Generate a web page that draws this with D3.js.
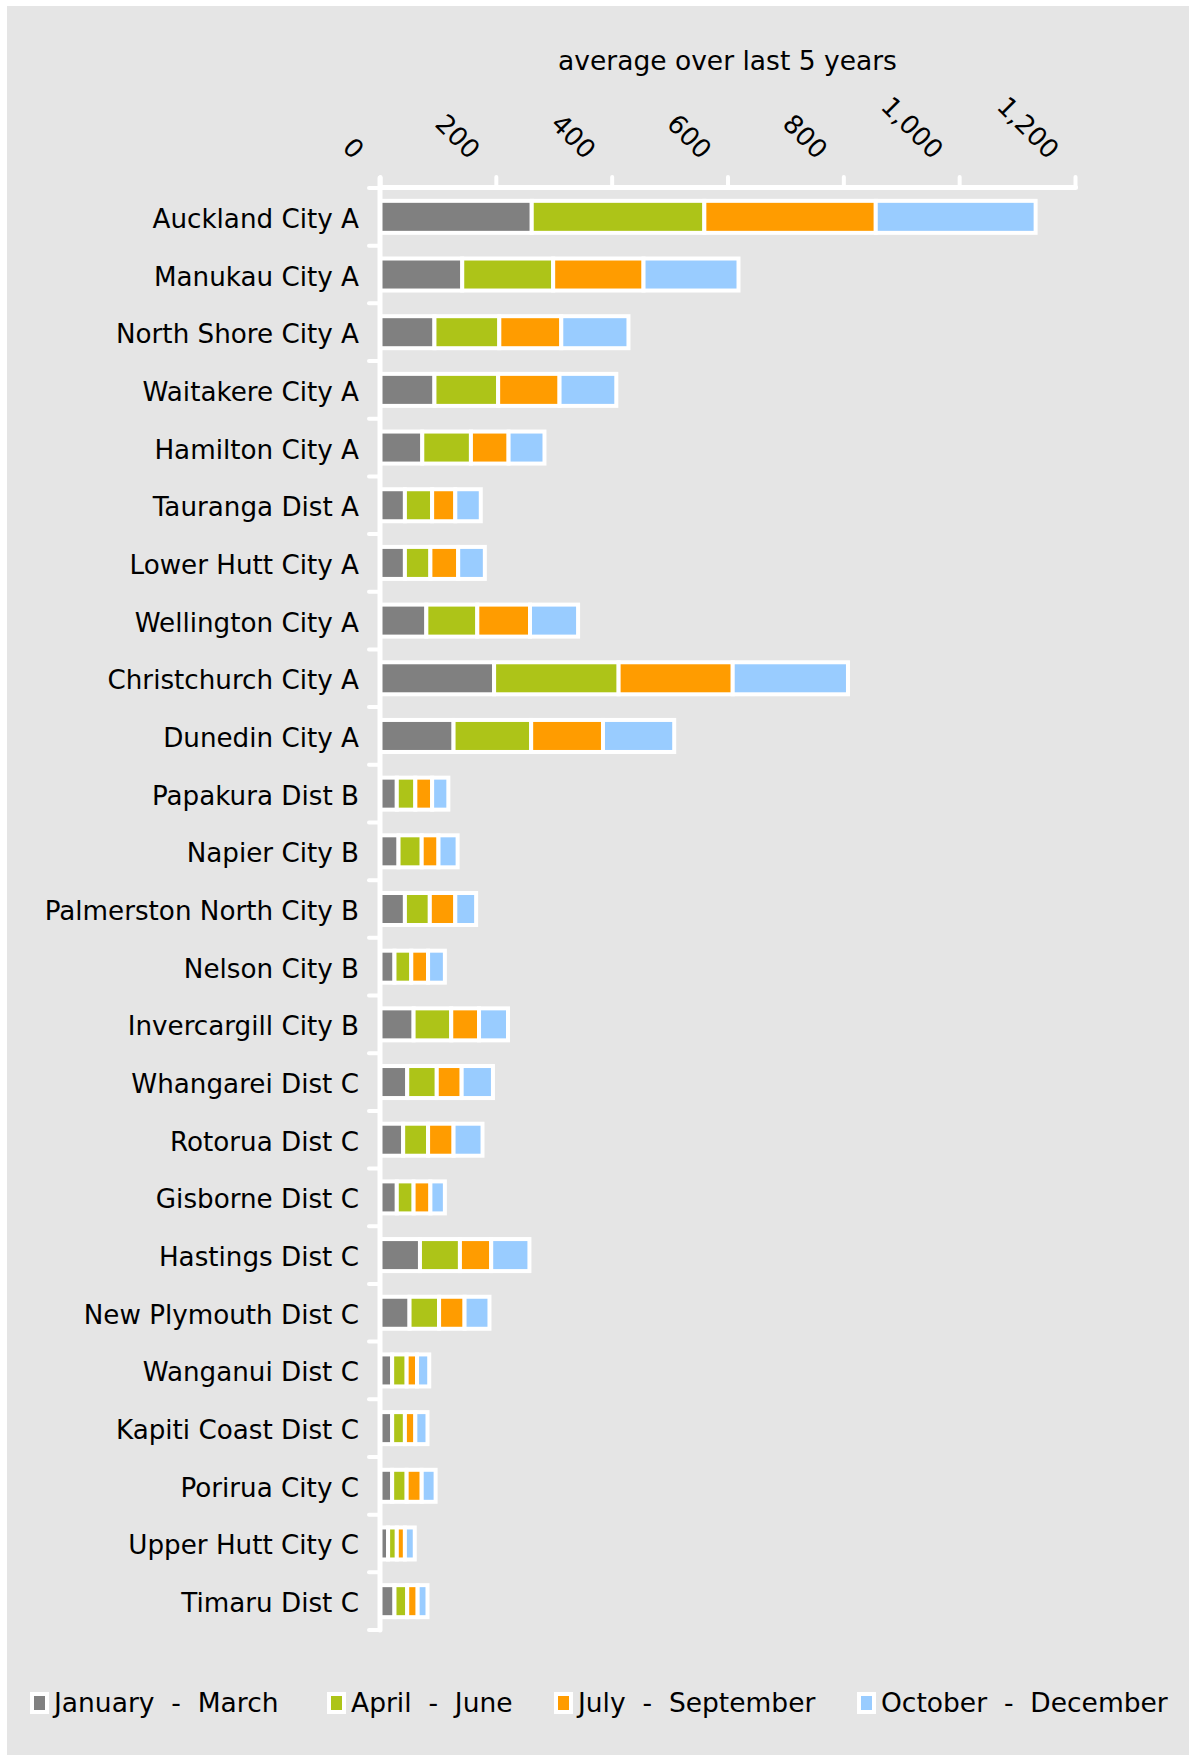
<!DOCTYPE html>
<html>
<head>
<meta charset="utf-8">
<script src="https://cdn.jsdelivr.net/npm/d3@7"></script>
<style>
  body { margin: 0; background: #ffffff; }
  text { font-family: "DejaVu Sans", Verdana, sans-serif; fill: #000; }
</style>
</head>
<body>
<div id="chart"></div>
<script>
// chart values
var categories = ["Auckland City A", "Manukau City A", "North Shore City A", "Waitakere City A",
  "Hamilton City A", "Tauranga Dist A", "Lower Hutt City A", "Wellington City A",
  "Christchurch City A", "Dunedin City A", "Papakura Dist B", "Napier City B",
  "Palmerston North City B", "Nelson City B", "Invercargill City B", "Whangarei Dist C",
  "Rotorua Dist C", "Gisborne Dist C", "Hastings Dist C", "New Plymouth Dist C",
  "Wanganui Dist C", "Kapiti Coast Dist C", "Porirua City C", "Upper Hutt City C", "Timaru Dist C"];

var janMar = [262, 142, 94, 94, 73, 43, 43, 80, 197, 127, 29, 32, 43, 25, 58, 47, 40, 29, 69, 51, 21, 21, 21, 14, 25];
var aprJun = [298, 157, 112, 110, 84, 47, 44, 88, 215, 134, 32, 40, 43, 29, 65, 51, 43, 29, 69, 51, 25, 22, 25, 15, 22];
var julSep = [296, 156, 107, 106, 65, 40, 48, 91, 197, 124, 29, 29, 44, 29, 48, 43, 44, 29, 54, 44, 18, 18, 26, 14, 18];
var octDec = [276, 164, 116, 98, 62, 44, 46, 83, 199, 123, 28, 33, 36, 29, 50, 54, 50, 25, 66, 43, 21, 21, 24, 17, 17];

var seriesNames = ["January  -  March", "April  -  June", "July  -  September", "October  -  December"];
var seriesColors = ["#808080", "#adc418", "#ff9c00", "#99ccff"];
var xTicks = [0, 200, 400, 600, 800, 1000, 1200];
var chartTitle = "average over last 5 years";

var svgWidth = 1189;
var svgHeight = 1755;

// plot area
var plot = { left: 380, right: 1075, top: 188, bottom: 1630 };
// where each legend entry starts
var legendX = [32, 329, 556, 859];

var svg = d3.select("#chart")
  .append("svg")
  .attr("width", svgWidth)
  .attr("height", svgHeight);

svg.append("rect")
  .attr("x", 7)
  .attr("y", 6)
  .attr("width", svgWidth - 7)
  .attr("height", svgHeight - 6)
  .attr("fill", "#e5e5e5");

// build rows for the stack
var keys = ["janMar", "aprJun", "julSep", "octDec"];
var rows = categories.map(function(c, i) {
  return { name: c, janMar: janMar[i], aprJun: aprJun[i], julSep: julSep[i], octDec: octDec[i] };
});
var stacked = d3.stack().keys(keys)(rows);

var x = d3.scaleLinear()
  .domain([0, 1200])
  .range([plot.left, plot.right]);

var pad = 0.445;
var y = d3.scaleBand()
  .domain(categories)
  .range([plot.top, plot.bottom])
  .paddingInner(pad)
  .paddingOuter(pad / 2);

// title
svg.append("text")
  .attr("x", (plot.left + plot.right) / 2)
  .attr("y", 70)
  .attr("text-anchor", "middle")
  .attr("font-size", "26.5px")
  .text(chartTitle);

// bars
svg.append("g").selectAll("g")
  .data(stacked)
  .enter()
  .append("g")
  .attr("fill", function(d, i) { return seriesColors[i]; })
  .selectAll("rect")
  .data(function(d) { return d; })
  .enter()
  .append("rect")
  .attr("x", function(d) { return x(d[0]); })
  .attr("y", function(d) { return y(d.data.name); })
  .attr("width", function(d) { return x(d[1]) - x(d[0]); })
  .attr("height", y.bandwidth())
  .attr("stroke", "#ffffff")
  .attr("stroke-width", 4);

// top value axis
var xAxis = svg.append("g")
  .attr("transform", "translate(0," + (plot.top - 1) + ")")
  .call(d3.axisTop(x).tickValues(xTicks).tickSize(10).tickSizeOuter(0).tickFormat(d3.format(",")));

xAxis.select(".domain")
  .attr("stroke", "#ffffff")
  .attr("stroke-width", 5)
  .attr("stroke-linecap", "round");
xAxis.selectAll(".tick line")
  .attr("stroke", "#ffffff")
  .attr("stroke-width", 4)
  .attr("stroke-linecap", "round");
xAxis.selectAll(".tick text")
  .attr("x", 0)
  .attr("y", 0)
  .attr("dy", "0.35em")
  .attr("text-anchor", "end")
  .attr("transform", "translate(-21,-33) rotate(45)")
  .attr("font-size", "26px")
  .attr("font-family", null)
  .attr("fill", "#000");

// category axis: line and ticks between categories
var yAxisG = svg.append("g");
yAxisG.append("line")
  .attr("x1", plot.left)
  .attr("x2", plot.left)
  .attr("y1", plot.top - 10)
  .attr("y2", plot.bottom)
  .attr("stroke", "#ffffff")
  .attr("stroke-width", 5)
  .attr("stroke-linecap", "round");

var bounds = d3.range(categories.length + 1).map(function(i) {
  return plot.top + i * y.step();
});
yAxisG.selectAll(".ytick")
  .data(bounds)
  .enter()
  .append("line")
  .attr("class", "ytick")
  .attr("x1", plot.left - 11)
  .attr("x2", plot.left)
  .attr("y1", function(d) { return d; })
  .attr("y2", function(d) { return d; })
  .attr("stroke", "#ffffff")
  .attr("stroke-width", 4)
  .attr("stroke-linecap", "round");

var yLabels = svg.append("g")
  .attr("transform", "translate(" + plot.left + ",0)")
  .call(d3.axisLeft(y).tickSize(0).tickPadding(21));
yLabels.select(".domain").remove();
yLabels.selectAll(".tick text")
  .attr("dy", "0.42em")
  .attr("font-size", "26.2px")
  .attr("font-family", null)
  .attr("fill", "#000");

// legend
var legend = svg.append("g");
seriesNames.forEach(function(name, i) {
  legend.append("rect")
    .attr("x", legendX[i])
    .attr("y", 1694)
    .attr("width", 15)
    .attr("height", 18)
    .attr("fill", seriesColors[i])
    .attr("stroke", "#ffffff")
    .attr("stroke-width", 4);
  legend.append("text")
    .attr("x", legendX[i] + 22)
    .attr("y", 1712)
    .attr("font-size", "26.5px")
    .style("white-space", "pre")
    .attr("xml:space", "preserve")
    .text(name);
});
</script>
</body>
</html>
